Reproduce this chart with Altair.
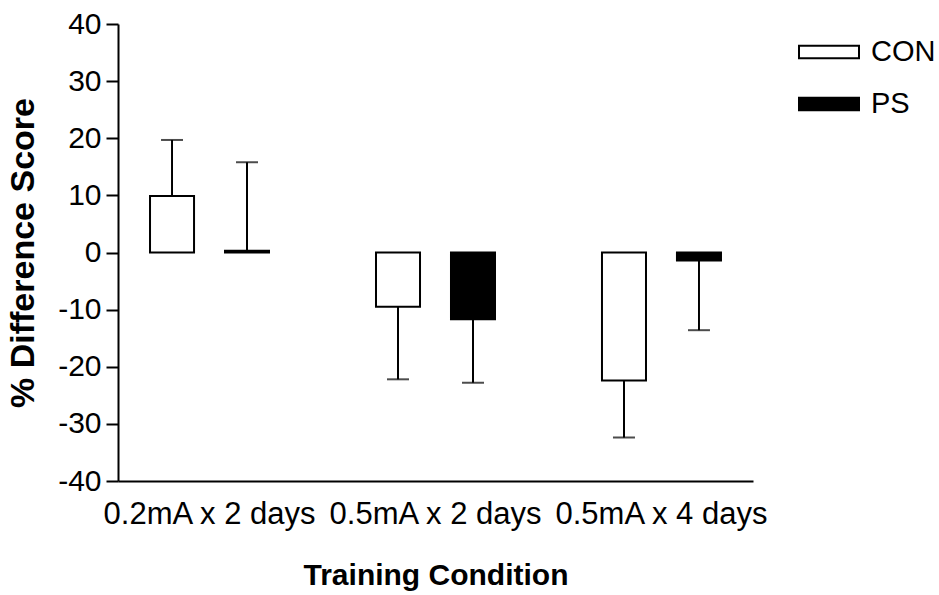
import altair as alt
import pandas as pd

# Training conditions and treatment groups
conditions = ["0.2mA x 2 days", "0.5mA x 2 days", "0.5mA x 4 days"]
groups = ["CON", "PS"]

# Mean % difference score and SEM per condition
con_mean = [9.9, -9.5, -22.4]
con_sem = [9.8, 12.7, 10.0]
ps_mean = [0.3, -11.7, -1.4]
ps_sem = [15.5, 11.1, 12.2]

y_ticks = [-40, -30, -20, -10, 0, 10, 20, 30, 40]

rows = []
for g, means, sems in [("CON", con_mean, con_sem), ("PS", ps_mean, ps_sem)]:
    for c, m, s in zip(conditions, means, sems):
        # one-sided error bar drawn away from zero
        end = m + s if m >= 0 else m - s
        rows.append({"condition": c, "group": g, "mean": m, "err_end": end})
df = pd.DataFrame(rows)

FONT = "Liberation Sans"

x_scale = alt.Scale(paddingInner=0.19, paddingOuter=0)
off_scale = alt.Scale(paddingInner=0.413, paddingOuter=0.427)
y_scale = alt.Scale(domain=[-40, 40], nice=False, zero=False)

x_axis = alt.Axis(
    title="Training Condition", labelAngle=0, ticks=False, labelPadding=18,
    labelFontSize=31, labelColor="black", labelFont=FONT, labelLimit=0,
    domainColor="black", domainWidth=2, grid=False,
    titleFontSize=30, titleFont=FONT, titleFontWeight="bold", titleColor="black",
    titleX=317.5, titleY=103, titleBaseline="alphabetic",
)
y_axis = alt.Axis(
    title="% Difference Score", values=y_ticks, grid=False,
    labelExpr="toString(datum.value)",
    tickSize=12, tickWidth=2, tickColor="black", labelPadding=5,
    labelFontSize=30, labelColor="black", labelFont=FONT,
    domainColor="black", domainWidth=2,
    titleFontSize=34, titleFont=FONT, titleFontWeight="bold", titleColor="black",
    titleX=-85, titleY=228.5, titleBaseline="alphabetic", titleAngle=-90,
)

x_enc = alt.X("condition:N", sort=conditions, scale=x_scale, axis=x_axis)
off_enc = alt.XOffset("group:N", sort=groups, scale=off_scale)

base = alt.Chart(df)

bars = base.mark_bar(stroke="black", strokeWidth=2).encode(
    x=x_enc,
    xOffset=off_enc,
    y=alt.Y("mean:Q", scale=y_scale, axis=y_axis),
    fill=alt.Fill(
        "group:N",
        sort=groups,
        scale=alt.Scale(domain=groups, range=["white", "black"]),
        legend=alt.Legend(
            title=None, orient="none", legendX=680, legendY=-3,
            symbolType="M-1,-0.21L1,-0.21L1,0.21L-1,0.21Z", symbolSize=3600,
            symbolStrokeColor="black", symbolStrokeWidth=2,
            labelFontSize=29, labelFont=FONT, labelColor="black",
            labelOffset=11, rowPadding=6,
        ),
    ),
)

stems = base.mark_rule(color="black", strokeWidth=2).encode(
    x=x_enc,
    xOffset=off_enc,
    y=alt.Y("mean:Q", scale=y_scale, axis=y_axis),
    y2="err_end:Q",
)

caps = base.mark_tick(color="black", size=22, thickness=2).encode(
    x=x_enc,
    xOffset=off_enc,
    y=alt.Y("err_end:Q", scale=y_scale, axis=y_axis),
)

chart = (
    alt.layer(stems, caps, bars)
    .properties(
        width=635, height=457,
        autosize=alt.AutoSizeParams(type="none"),
        padding={"left": 118, "top": 24, "right": 186, "bottom": 114},
        background="white",
    )
    .configure_view(stroke=None)
)

chart.save("out.html", embed_options={"renderer": "svg", "actions": False})
